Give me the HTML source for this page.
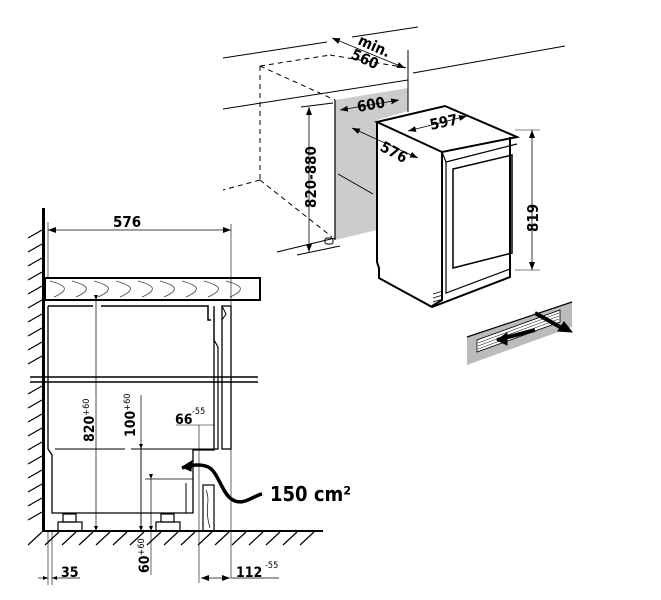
<!DOCTYPE html>
<html><head><meta charset="utf-8"><style>
html,body{margin:0;padding:0;background:#fff;}
svg{display:block;font-family:"DejaVu Sans Condensed","Liberation Sans",sans-serif;}
</style></head><body>
<svg width="661" height="600" viewBox="0 0 661 600" xmlns="http://www.w3.org/2000/svg">
<defs>
<marker id="a" markerWidth="8" markerHeight="6" refX="8" refY="3" orient="auto" markerUnits="userSpaceOnUse"><path d="M0,0L8,3L0,6z" fill="#000"/></marker>
<marker id="b" markerWidth="8" markerHeight="6" refX="0" refY="3" orient="auto" markerUnits="userSpaceOnUse"><path d="M8,0L0,3L8,6z" fill="#000"/></marker>
<marker id="s" markerWidth="5" markerHeight="4" refX="5" refY="2" orient="auto" markerUnits="userSpaceOnUse"><path d="M0,0L5,2L0,4z" fill="#000"/></marker>
</defs>
<g stroke="#000" fill="none">
<line x1="43.5" y1="208" x2="43.5" y2="532" stroke-width="3"/>
<g stroke-width="1.2">
<path d="M28,238l14,-8M28,252l14,-8M28,266l14,-8M28,280l14,-8M28,294l14,-8M28,308l14,-8M28,322l14,-8M28,336l14,-8M28,350l14,-8M28,364l14,-8M28,394l14,-8M28,408l14,-8M28,422l14,-8M28,436l14,-8M28,450l14,-8M28,464l14,-8M28,478l14,-8M28,492l14,-8M28,506l14,-8M28,520l14,-8"/>
<path d="M28,545l14,-13M45,545l14,-13M62,545l14,-13M79,545l14,-13M96,545l14,-13M113,545l14,-13M130,545l14,-13M147,545l14,-13M164,545l14,-13M181,545l14,-13M198,545l14,-13M215,545l14,-13M232,545l14,-13M249,545l14,-13M266,545l14,-13M283,545l14,-13M300,545l14,-13"/>
</g>
<line x1="43" y1="531" x2="323" y2="531" stroke-width="2"/>
<rect x="45" y="278" width="215" height="22" stroke-width="2"/>
<g stroke-width="0.8" stroke="#444">
<path d="M50,281c14,4 22,8 4,16M72,281c14,4 22,8 4,16M94,281c14,4 22,8 4,16M116,281c14,4 22,8 4,16M138,281c14,4 22,8 4,16M160,281c14,4 22,8 4,16M182,281c14,4 22,8 4,16M204,281c14,4 22,8 4,16M226,281c14,4 22,8 4,16"/>
</g>
<line x1="48" y1="230" x2="231" y2="230" stroke-width="0.8" marker-start="url(#b)" marker-end="url(#a)"/>
<line x1="48" y1="222" x2="48" y2="278" stroke-width="0.6"/>
<line x1="231" y1="224" x2="231" y2="578" stroke-width="0.6"/>
<path d="M48,306H93M101,306H208v14h3" stroke-width="1.5"/>
<path d="M48,306V449l4,6V513H193V450H214V306" stroke-width="1.3"/>
<path d="M55,449H125M131,449H214" stroke-width="1"/>
<path d="M214,310v30l4,7v102h-4" stroke-width="1.2"/>
<rect x="222" y="306" width="9" height="143" stroke-width="1.3"/>
<path d="M222,306l4,8-4,6" stroke-width="1"/>
<line x1="30" y1="377" x2="258" y2="377" stroke-width="1.5"/>
<line x1="30" y1="382" x2="258" y2="382" stroke-width="1.5"/>
<path d="M145,479H193" stroke-width="0.7"/>
<path d="M186,483V513M193,460v15" stroke-width="1"/>
<rect x="203" y="485" width="11" height="46" stroke-width="1.2"/>
<path d="M206,490c5,10 -2,20 4,38" stroke-width="0.7"/>
<rect x="58" y="522" width="24" height="9" stroke-width="1.2"/><rect x="63" y="514" width="13" height="8" stroke-width="1.2"/>
<rect x="156" y="522" width="24" height="9" stroke-width="1.2"/><rect x="161" y="514" width="13" height="8" stroke-width="1.2"/>
<line x1="96" y1="300" x2="96" y2="531" stroke-width="0.7" marker-start="url(#s)" marker-end="url(#s)"/>
<line x1="141" y1="395" x2="141" y2="531" stroke-width="0.7"/>
<line x1="141" y1="449" x2="141" y2="531" stroke-width="0.7" marker-start="url(#s)" marker-end="url(#s)"/>
<line x1="151" y1="479" x2="151" y2="531" stroke-width="0.7" marker-start="url(#s)" marker-end="url(#s)"/>
<line x1="151" y1="531" x2="151" y2="575" stroke-width="0.6"/>
<line x1="199" y1="425" x2="199" y2="583" stroke-width="0.6"/>
<line x1="176" y1="425" x2="214" y2="425" stroke-width="0.6"/>
<line x1="48" y1="531" x2="48" y2="585" stroke-width="0.6"/>
<line x1="52" y1="531" x2="52" y2="585" stroke-width="0.6"/>
<line x1="38" y1="578" x2="48" y2="578" stroke-width="0.7" marker-end="url(#s)"/>
<line x1="80" y1="578" x2="52" y2="578" stroke-width="0.7" marker-end="url(#s)"/>
<line x1="201" y1="578" x2="230" y2="578" stroke-width="0.7" marker-start="url(#b)" marker-end="url(#a)"/>
<line x1="231" y1="578" x2="279" y2="578" stroke-width="0.7"/>
<path d="M262,494c-10,2 -20,14 -32,4c-8,-7 -12,-24 -20,-30c-8,-5 -18,-3 -28,0" stroke-width="3.5"/>
<path d="M182,467l10,-6l-1,10z" fill="#000" stroke-width="1"/>
</g>
<g fill="#000" font-weight="bold">
<text x="113" y="227" font-size="15">576</text>
<text x="270" y="501" font-size="20">150 cm²</text>
<text x="61" y="577" font-size="14">35</text>
<text x="236" y="577" font-size="14">112</text><text x="265" y="568" font-size="9" font-weight="normal">-55</text>
<text x="175" y="424" font-size="14">66</text><text x="192" y="414" font-size="9" font-weight="normal">-55</text>
<text transform="translate(94,442) rotate(-90)" font-size="14">820<tspan font-size="9" font-weight="normal" dy="-5">+60</tspan></text>
<text transform="translate(135,437) rotate(-90)" font-size="14">100<tspan font-size="9" font-weight="normal" dy="-5">+60</tspan></text>
<text transform="translate(149,573) rotate(-90)" font-size="14">60<tspan font-size="9" font-weight="normal" dy="-5">+60</tspan></text>
</g>

<g stroke="#000" fill="none" stroke-width="1">
<line x1="223" y1="58" x2="327" y2="42"/>
<line x1="352" y1="37" x2="418" y2="27"/>
<line x1="413" y1="73" x2="565" y2="46"/>
<line x1="223" y1="109" x2="408" y2="80"/>
<polygon points="335,100 408,88 408,111 377,120 377,230 335,240" fill="#ccc" stroke="none"/>
<line x1="335" y1="100" x2="335" y2="240" stroke-width="1.2"/>
<line x1="408" y1="50" x2="408" y2="112"/>
<g stroke-dasharray="5,4">
<path d="M260,66L330,55M260,66V180M260,66L335,100M260,180L223,190M260,180L332,237M330,55L408,68"/>
</g>
<line x1="338" y1="174" x2="373" y2="194"/>
<line x1="277" y1="252" x2="335" y2="238"/>
<line x1="297" y1="255" x2="340" y2="246"/>
<rect x="325" y="238" width="8" height="6" rx="2"/>
<line x1="301" y1="107" x2="333" y2="103"/>
<line x1="309" y1="107" x2="309" y2="252" stroke-width="0.8" marker-start="url(#b)" marker-end="url(#a)"/>
<line x1="340" y1="110" x2="399" y2="100" stroke-width="0.8" marker-start="url(#b)" marker-end="url(#a)"/>
<line x1="332" y1="38" x2="405" y2="68" stroke-width="0.8" marker-start="url(#b)" marker-end="url(#a)"/>
<g stroke-width="2">
<polygon points="377,122 445,106 517,137 442,152" fill="#fff"/>
<path d="M377,122V262l2,6v10l53,29l78,-30V137M442,152V300l-10,6"/>
</g>
<path d="M442,152l4,10l71,-18" stroke-width="1.2"/>
<path d="M446,162V293l64,-24" stroke-width="1.2"/>
<polygon points="453,169 512,155 512,253 453,268" stroke-width="1.5"/>
<path d="M433,294l10,-3M433,298l10,-3M433,302l10,-3" stroke-width="0.8"/>
<line x1="515" y1="130" x2="540" y2="130" stroke-width="0.6"/>
<line x1="515" y1="270" x2="540" y2="270" stroke-width="0.6"/>
<line x1="532" y1="130" x2="532" y2="270" stroke-width="0.8" marker-start="url(#b)" marker-end="url(#a)"/>
<line x1="408" y1="131" x2="467" y2="116" stroke-width="0.8" marker-start="url(#b)" marker-end="url(#a)"/>
<line x1="352" y1="128" x2="418" y2="158" stroke-width="0.8" marker-start="url(#b)" marker-end="url(#a)"/>
<polygon points="467,337 572,302 572,327 467,365" fill="#bbb" stroke="none"/>
<polygon points="477,340 560,310 560,322 477,352" fill="#fff" stroke-width="0.8"/>
<g stroke-width="0.5"><path d="M478,343L559,313M478,346L559,316M478,349L559,319"/></g>
<path d="M467,337L572,302" stroke-width="1.2"/>
<path d="M535,330L497,340" stroke-width="4"/>
<path d="M497,340l10,-7l0,12z" fill="#000"/>
<path d="M535,313L562,328" stroke-width="4"/>
<path d="M572,332l-14,-1l6,-9z" fill="#000"/>
</g>
<g fill="#000" font-size="15" font-weight="bold">
<text transform="translate(357,44) rotate(24)">min.</text>
<text transform="translate(350,58) rotate(24)">560</text>
<text transform="translate(358,112) rotate(-10)">600</text>
<text transform="translate(431,130) rotate(-12)">597</text>
<text transform="translate(379,150) rotate(28)">576</text>
<text transform="translate(316,208) rotate(-90)">820-880</text>
<text transform="translate(538,232) rotate(-90)">819</text>
</g>
</svg>
</body></html>
